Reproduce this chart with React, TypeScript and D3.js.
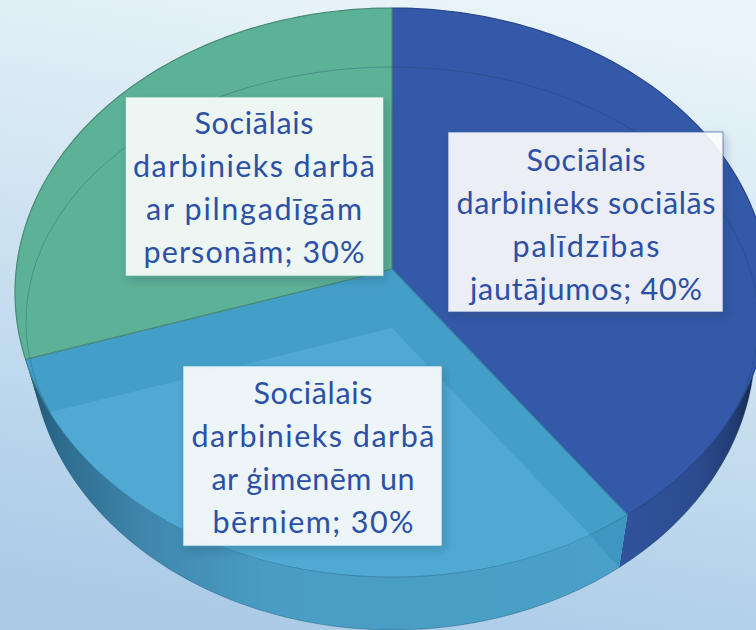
import React from "react";
import * as d3 from "d3";

const categories = ["socialAssistance", "families", "adults"];
const values = [40, 30, 30];
const sliceLabels = [
  ["Sociālais", "darbinieks sociālās", "palīdzības", "jautājumos; 40%"],
  ["Sociālais", "darbinieks darbā", "ar ģimenēm un", "bērniem; 30%"],
  ["Sociālais", "darbinieks darbā", "ar pilngadīgām", "personām; 30%"],
];

const W = 756, H = 630;
const rim = { cx: 392, cy: 292.5, rx: 377, ry: 284.5 };
const base = { cx: 393, cy: 345, rx: 362, ry: 285 };
const inner = { cx: 392, cy: 322, rx: 366, ry: 255 };
const apex = { x: 392, y: 269 };
const innerApex = { x: 392, y: 328 };
const dirRx = 377, dirRy = 286;

const faceFill: Record<string, string> = { socialAssistance: "#3359a8", families: "#449fc8", adults: "#5cb297" };
const wallFill: Record<string, string> = { socialAssistance: "url(#wallBlue)", families: "url(#wallLight)", adults: "#2f6f5c" };
const edgeColor: Record<string, string> = { socialAssistance: "#28488f", families: "#3a86a8", adults: "#4a8b78" };

const boxes = [
  { x: 448, y: 132, w: 275, h: 180, tx: 586, base: [171, 214, 257, 300], fit: [119, 259, 147, 232] },
  { x: 183, y: 366, w: 259, h: 180, tx: 313, base: [404, 447, 490, 533], fit: [119, 243, 203, 201] },
  { x: 125.5, y: 97, w: 258, h: 179, tx: 254, base: [134, 177, 220, 263], fit: [119, 242, 216, 221] },
];

// Where a ray leaving point `o` at pie angle `a` meets the rim ellipse.
function project(o: { x: number; y: number }, a: number): [number, number] {
  const dx = Math.sin(a) * dirRx, dy = -Math.cos(a) * dirRy;
  const ox = (o.x - rim.cx) / rim.rx, oy = (o.y - rim.cy) / rim.ry;
  const ux = dx / rim.rx, uy = dy / rim.ry;
  const A = ux * ux + uy * uy, B = 2 * (ox * ux + oy * uy), C = ox * ox + oy * oy - 1;
  const t = (-B + Math.sqrt(B * B - 4 * A * C)) / (2 * A);
  return [o.x + dx * t, o.y + dy * t];
}
function toBase(p: [number, number]): [number, number] {
  return [base.cx + ((p[0] - rim.cx) / rim.rx) * base.rx, base.cy + ((p[1] - rim.cy) / rim.ry) * base.ry];
}
function sampleAngles(a0: number, a1: number) {
  const n = Math.max(2, Math.ceil((a1 - a0) / 0.02));
  return d3.range(n + 1).map((i) => a0 + ((a1 - a0) * i) / n);
}

const line = d3.line<[number, number]>();
const closed = (pts: [number, number][]) => (line(pts) as string) + "Z";

export default function App() {
  const arcs = d3.pie<string>().sort(null).value((_, i) => values[i])(categories);
  const ell = (e: { cx: number; cy: number; rx: number; ry: number }) => ({ cx: e.cx, cy: e.cy, rx: e.rx, ry: e.ry });
  const fam = arcs.find((d) => d.data === "families")!;
  const corner = project(apex, fam.startAngle);
  return (
    <svg width={W} height={H} viewBox={`0 0 ${W} ${H}`} style={{ position: "absolute", left: 0, top: 0, display: "block" }}>
      <defs>
        <linearGradient id="bg" x1="0.62" y1="0" x2="0.4" y2="1">
          <stop offset="0" stopColor="#e9f4f9" />
          <stop offset="0.5" stopColor="#cbe1f0" />
          <stop offset="1" stopColor="#abcbe8" />
        </linearGradient>
        <linearGradient id="wallBlue" gradientUnits="userSpaceOnUse" x1="620" y1="0" x2="756" y2="0">
          <stop offset="0" stopColor="#30539c" />
          <stop offset="0.55" stopColor="#2c4c90" />
          <stop offset="0.85" stopColor="#223c72" />
          <stop offset="1" stopColor="#16253f" />
        </linearGradient>
        <linearGradient id="wallLight" gradientUnits="userSpaceOnUse" x1="25" y1="0" x2="620" y2="0">
          <stop offset="0" stopColor="#1f5470" />
          <stop offset="0.06" stopColor="#2d6c8e" />
          <stop offset="0.2" stopColor="#3f86ac" />
          <stop offset="0.4" stopColor="#4a9cc4" />
          <stop offset="1" stopColor="#49a0c8" />
        </linearGradient>
        <filter id="shadow" x="-10%" y="-10%" width="125%" height="125%">
          <feDropShadow dx="3" dy="4" stdDeviation="4" floodColor="#1a2a44" floodOpacity="0.25" />
        </filter>
        <clipPath id="faceClip">
          <ellipse {...ell(rim)} />
        </clipPath>
      </defs>
      <rect width={W} height={H} fill="url(#bg)" />

      {arcs.map((d) => {
        const rimPts = sampleAngles(d.startAngle, d.endAngle).map((a) => project(apex, a));
        const basePts = rimPts.map(toBase).reverse();
        return <path key={"wall" + d.data} d={closed([...rimPts, ...basePts])} fill={wallFill[d.data]} />;
      })}
      <path d={closed([project(innerApex, fam.startAngle), corner, toBase(corner)])} fill="#3f97c1" />
      <ellipse {...ell(base)} fill="none" stroke="#1d4a5e" strokeOpacity={0.35} strokeWidth={1} />

      {arcs.map((d) => {
        const rimPts = sampleAngles(d.startAngle, d.endAngle).map((a) => project(apex, a));
        return (
          <path
            key={"face" + d.data}
            d={closed([[apex.x, apex.y], ...rimPts])}
            fill={faceFill[d.data]}
            stroke={edgeColor[d.data]}
            strokeWidth={1.2}
            strokeLinejoin="round"
          />
        );
      })}

      {arcs
        .filter((d) => d.data === "families")
        .map((d) => {
          const pts = sampleAngles(d.startAngle, d.endAngle).map((a) => project(innerApex, a));
          return <path key="glass" d={closed([[innerApex.x, innerApex.y], ...pts])} fill="#50a9d3" />;
        })}

      <g clipPath="url(#faceClip)">
        <ellipse {...ell(inner)} fill="none" stroke="#1c3a5e" strokeOpacity={0.28} strokeWidth={1} />
      </g>

      {arcs.map((d, i) => {
        const b = boxes[i];
        return (
          <g key={"label" + d.data}>
            <rect
              x={b.x}
              y={b.y}
              width={b.w}
              height={b.h}
              fill="#ffffff"
              fillOpacity={0.89}
              stroke={faceFill[d.data]}
              strokeOpacity={0.7}
              strokeWidth={1}
              filter="url(#shadow)"
            />
            {sliceLabels[i].map((t, j) => (
              <text
                key={j}
                x={b.tx}
                y={b.base[j]}
                textAnchor="middle"
                textLength={b.fit[j]}
                lengthAdjust="spacing"
                fontFamily="Lato, 'Noto Sans', sans-serif"
                fontSize={30.5}
                fill="#2b50a6"
              >
                {t}
              </text>
            ))}
          </g>
        );
      })}
    </svg>
  );
}
